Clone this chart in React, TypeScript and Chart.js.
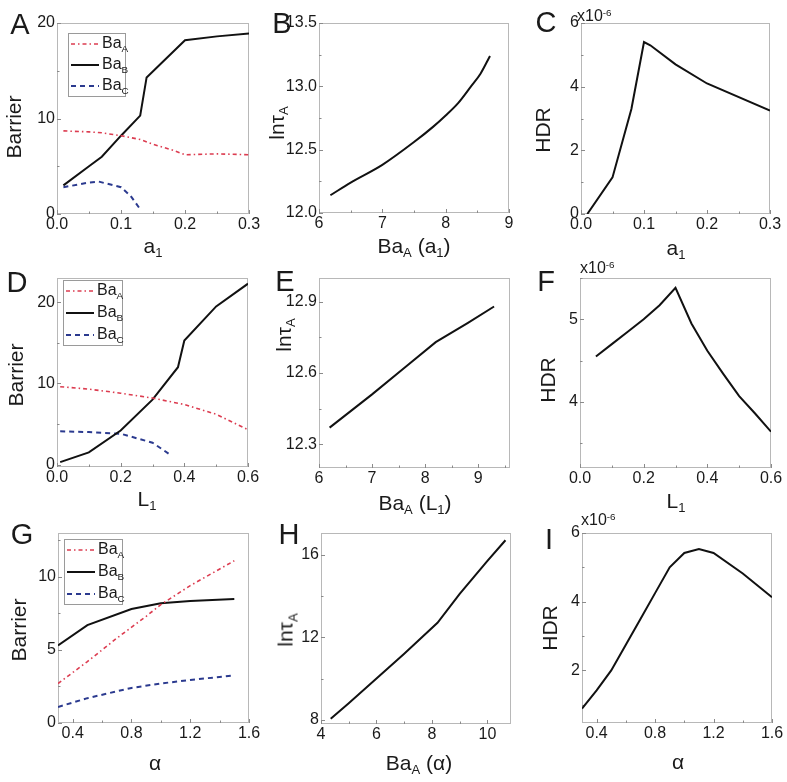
import React, { useEffect, useRef } from "react";
import { Chart, registerables } from "chart.js";
Chart.register(...registerables);

const FONT = "'Liberation Sans', Arial, Helvetica, sans-serif";
const TXT = "#1a1a1a";

// ---------- Data ----------
// Panel A (x = a1)
const A_BaA_x = [0.01, 0.05, 0.07, 0.1, 0.13, 0.15, 0.18, 0.2, 0.25, 0.3];
const A_BaA_y = [8.7, 8.6, 8.5, 8.2, 7.8, 7.3, 6.7, 6.2, 6.3, 6.2];
const A_BaB_x = [0.01, 0.05, 0.07, 0.1, 0.13, 0.14, 0.2, 0.25, 0.3];
const A_BaB_y = [3.0, 5.0, 6.0, 8.2, 10.3, 14.3, 18.2, 18.6, 18.9];
const A_BaC_x = [0.01, 0.05, 0.065, 0.1, 0.115, 0.13];
const A_BaC_y = [2.8, 3.3, 3.4, 2.8, 1.9, 0.5];
// Panel B (x = BaA(a1), y = ln tauA)
const B_x = [6.18, 6.5, 7.0, 7.5, 7.8, 8.0, 8.2, 8.4, 8.55, 8.7];
const B_y = [12.14, 12.24, 12.38, 12.56, 12.68, 12.77, 12.87, 13.0, 13.1, 13.24];
// Panel C (x = a1, HDR x1e-6)
const C_x = [0.01, 0.05, 0.08, 0.1, 0.11, 0.15, 0.2, 0.3];
const C_y = [0, 1.15, 3.3, 5.4, 5.3, 4.7, 4.1, 3.25];
// Panel D (x = L1)
const D_BaA_x = [0.01, 0.1, 0.2, 0.3, 0.4, 0.5, 0.6];
const D_BaA_y = [9.6, 9.3, 8.8, 8.2, 7.4, 6.2, 4.3];
const D_BaB_x = [0.01, 0.1, 0.2, 0.3, 0.38, 0.4, 0.5, 0.6];
const D_BaB_y = [0.3, 1.5, 4.2, 8.0, 12.0, 15.3, 19.5, 22.3];
const D_BaC_x = [0.01, 0.1, 0.2, 0.3, 0.36];
const D_BaC_y = [4.1, 4.0, 3.8, 2.7, 1.1];
// Panel E (x = BaA(L1))
const E_x = [6.2, 7.0, 7.6, 8.2, 8.8, 9.3];
const E_y = [12.37, 12.51, 12.62, 12.73, 12.81, 12.88];
// Panel F (x = L1, HDR x1e-6)
const F_x = [0.05, 0.1, 0.15, 0.2, 0.25, 0.3, 0.35, 0.4, 0.45, 0.5, 0.55, 0.6];
const F_y = [4.55, 4.7, 4.85, 5.0, 5.17, 5.38, 4.95, 4.62, 4.34, 4.07, 3.86, 3.64];
// Panel G (x = alpha)
const G_BaA_x = [0.3, 0.5, 0.7, 0.9, 1.0, 1.2, 1.5];
const G_BaA_y = [2.7, 4.2, 5.8, 7.3, 8.1, 9.4, 11.1];
const G_BaB_x = [0.3, 0.5, 0.8, 1.0, 1.2, 1.5];
const G_BaB_y = [5.3, 6.7, 7.8, 8.2, 8.35, 8.48];
const G_BaC_x = [0.3, 0.5, 0.8, 1.0, 1.2, 1.5];
const G_BaC_y = [1.1, 1.7, 2.4, 2.7, 2.95, 3.25];
// Panel H (x = BaA(alpha))
const H_x = [4.35, 5, 6, 7, 8.2, 9, 10, 10.65];
const H_y = [8.05, 8.8, 10.0, 11.2, 12.7, 14.1, 15.7, 16.7];
// Panel I (x = alpha, HDR x1e-6)
const I_x = [0.3, 0.4, 0.5, 0.6, 0.7, 0.8, 0.9, 1.0, 1.1, 1.2, 1.4, 1.6];
const I_y = [0.89, 1.42, 2.0, 2.75, 3.5, 4.25, 5.0, 5.42, 5.53, 5.42, 4.82, 4.13];

// Tick values
const T_a1 = [0, 0.1, 0.2, 0.3];
const T_L1 = [0, 0.2, 0.4, 0.6];
const T_alpha = [0.4, 0.8, 1.2, 1.6];
const T_barA = [0, 10, 20];
const T_barD = [0, 10, 20];
const T_barG = [0, 5, 10];
const T_Bx = [6, 7, 8, 9];
const T_By = [12.0, 12.5, 13.0, 13.5];
const T_Ex = [6, 7, 8, 9];
const T_Ey = [12.3, 12.6, 12.9];
const T_Hx = [4, 6, 8, 10];
const T_Hy = [8, 12, 16];
const T_hdrC = [0, 2, 4, 6];
const T_hdrF = [4, 5];
const T_hdrI = [2, 4, 6];

// ---------- Config ----------
type Kind = "A" | "B" | "C" | "K";
type Ser = { xs: number[]; ys: number[]; kind: Kind; smooth?: boolean };
type Axis = { min: number; max: number; ticks: number[]; dec: number; minorStep: number };
type PanelCfg = { box: [number, number, number, number]; x: Axis; y: Axis; series: Ser[] };

const panels: PanelCfg[] = [
  {
    box: [57, 23, 249, 214],
    x: { min: 0, max: 0.3, ticks: T_a1, dec: 1, minorStep: 0.05 },
    y: { min: 0, max: 20, ticks: T_barA, dec: 0, minorStep: 5 },
    series: [
      { xs: A_BaA_x, ys: A_BaA_y, kind: "A" },
      { xs: A_BaB_x, ys: A_BaB_y, kind: "B" },
      { xs: A_BaC_x, ys: A_BaC_y, kind: "C" },
    ],
  },
  {
    box: [319, 23, 509, 213],
    x: { min: 6, max: 9, ticks: T_Bx, dec: 0, minorStep: 0.5 },
    y: { min: 12, max: 13.5, ticks: T_By, dec: 1, minorStep: 0.25 },
    series: [{ xs: B_x, ys: B_y, kind: "K", smooth: true }],
  },
  {
    box: [581, 23, 770, 214],
    x: { min: 0, max: 0.3, ticks: T_a1, dec: 1, minorStep: 0.05 },
    y: { min: 0, max: 6, ticks: T_hdrC, dec: 0, minorStep: 1 },
    series: [{ xs: C_x, ys: C_y, kind: "K" }],
  },
  {
    box: [57, 278, 248, 467],
    x: { min: 0, max: 0.6, ticks: T_L1, dec: 1, minorStep: 0.1 },
    y: { min: -0.3, max: 23, ticks: T_barD, dec: 0, minorStep: 5 },
    series: [
      { xs: D_BaA_x, ys: D_BaA_y, kind: "A" },
      { xs: D_BaB_x, ys: D_BaB_y, kind: "B" },
      { xs: D_BaC_x, ys: D_BaC_y, kind: "C" },
    ],
  },
  {
    box: [319, 278, 510, 468],
    x: { min: 6, max: 9.6, ticks: T_Ex, dec: 0, minorStep: 0.5 },
    y: { min: 12.2, max: 13.0, ticks: T_Ey, dec: 1, minorStep: 0.15 },
    series: [{ xs: E_x, ys: E_y, kind: "K" }],
  },
  {
    box: [580, 278, 771, 468],
    x: { min: 0, max: 0.6, ticks: T_L1, dec: 1, minorStep: 0.1 },
    y: { min: 3.2, max: 5.5, ticks: T_hdrF, dec: 0, minorStep: 0.5 },
    series: [{ xs: F_x, ys: F_y, kind: "K" }],
  },
  {
    box: [58, 533, 249, 723],
    x: { min: 0.3, max: 1.6, ticks: T_alpha, dec: 1, minorStep: 0.2 },
    y: { min: 0, max: 13, ticks: T_barG, dec: 0, minorStep: 2.5 },
    series: [
      { xs: G_BaA_x, ys: G_BaA_y, kind: "A" },
      { xs: G_BaB_x, ys: G_BaB_y, kind: "B" },
      { xs: G_BaC_x, ys: G_BaC_y, kind: "C" },
    ],
  },
  {
    box: [321, 533, 511, 724],
    x: { min: 4, max: 10.85, ticks: T_Hx, dec: 0, minorStep: 1 },
    y: { min: 7.8, max: 17.05, ticks: T_Hy, dec: 0, minorStep: 2 },
    series: [{ xs: H_x, ys: H_y, kind: "K" }],
  },
  {
    box: [582, 533, 772, 723],
    x: { min: 0.3, max: 1.6, ticks: T_alpha, dec: 1, minorStep: 0.2 },
    y: { min: 0.47, max: 6, ticks: T_hdrI, dec: 0, minorStep: 1 },
    series: [{ xs: I_x, ys: I_y, kind: "K" }],
  },
];

const styleFor = (k: Kind) => {
  if (k === "A") return { borderColor: "#dc3c50", borderWidth: 1.6, borderDash: [4, 3, 1.5, 3] };
  if (k === "C") return { borderColor: "#2b3a8f", borderWidth: 2, borderDash: [5, 4] };
  return { borderColor: "#111111", borderWidth: 2, borderDash: [] as number[] };
};

const PL = 55, PT = 10, PR = 16, PB = 30;

const framePlugin = {
  id: "frame",
  beforeDatasetsDraw(chart: any) {
    const { ctx, chartArea: a } = chart;
    const cfg = chart.options.plugins.frame as { x: Axis; y: Axis };
    const sx = chart.scales.x, sy = chart.scales.y;
    ctx.save();
    ctx.strokeStyle = "#b8b8b8";
    ctx.lineWidth = 1;
    ctx.strokeRect(a.left + 0.5, a.top + 0.5, a.width - 1, a.height - 1);
    ctx.strokeStyle = "#8a8a8a";
    ctx.beginPath();
    const eps = 1e-9;
    const xStart = Math.ceil((cfg.x.min - eps) / cfg.x.minorStep) * cfg.x.minorStep;
    for (let v = xStart; v <= cfg.x.max + eps; v += cfg.x.minorStep) {
      const major = cfg.x.ticks.some((t) => Math.abs(t - v) < 1e-6);
      const px = Math.round(sx.getPixelForValue(v)) + 0.5;
      const len = major ? 4 : 2.5;
      ctx.moveTo(px, a.bottom);
      ctx.lineTo(px, a.bottom - len);
    }
    const yStart = Math.ceil((cfg.y.min - eps) / cfg.y.minorStep) * cfg.y.minorStep;
    for (let v = yStart; v <= cfg.y.max + eps; v += cfg.y.minorStep) {
      const major = cfg.y.ticks.some((t) => Math.abs(t - v) < 1e-6);
      const py = Math.round(sy.getPixelForValue(v)) + 0.5;
      const len = major ? 4 : 2.5;
      ctx.moveTo(a.left, py);
      ctx.lineTo(a.left + len, py);
    }
    ctx.stroke();
    ctx.restore();
  },
};

function Panel({ p }: { p: PanelCfg }) {
  const ref = useRef<HTMLCanvasElement>(null);
  const [l, t, r, b] = p.box;
  const W = r - l + PL + PR;
  const H = b - t + PT + PB;
  useEffect(() => {
    const tickFont = { family: FONT, size: 16 };
    const chart = new Chart(ref.current as HTMLCanvasElement, {
      type: "line",
      data: {
        datasets: p.series.map((s) => ({
          data: s.xs.map((x, i) => ({ x, y: s.ys[i] })),
          ...styleFor(s.kind),
          pointRadius: 0,
          fill: false,
          tension: 0,
          cubicInterpolationMode: s.smooth ? "monotone" : "default",
        })),
      } as any,
      options: {
        animation: false,
        responsive: false,
        devicePixelRatio: 1,
        events: [],
        layout: { padding: { left: 0, top: PT, right: PR, bottom: 0 } },
        plugins: {
          legend: { display: false },
          tooltip: { enabled: false },
          frame: { x: p.x, y: p.y },
        } as any,
        scales: {
          x: {
            type: "linear",
            min: p.x.min,
            max: p.x.max,
            afterBuildTicks: (s: any) => {
              s.ticks = p.x.ticks.map((v) => ({ value: v }));
            },
            afterFit: (s: any) => {
              s.height = PB;
              s.paddingLeft = 0;
              s.paddingRight = 0;
            },
            grid: { display: false, drawTicks: false },
            border: { display: false },
            ticks: {
              autoSkip: false,
              maxRotation: 0,
              padding: 1,
              color: TXT,
              font: tickFont,
              callback: (v: any) => Number(v).toFixed(p.x.dec),
            },
          },
          y: {
            type: "linear",
            min: p.y.min,
            max: p.y.max,
            afterBuildTicks: (s: any) => {
              s.ticks = p.y.ticks.map((v) => ({ value: v }));
            },
            afterFit: (s: any) => {
              s.width = PL;
              s.paddingTop = 0;
              s.paddingBottom = 0;
            },
            grid: { display: false, drawTicks: false },
            border: { display: false },
            ticks: {
              autoSkip: false,
              padding: 2,
              color: TXT,
              font: tickFont,
              callback: (v: any) => Number(v).toFixed(p.y.dec),
            },
          },
        },
      } as any,
      plugins: [framePlugin],
    });
    return () => chart.destroy();
  }, []);
  return (
    <canvas
      ref={ref}
      width={W}
      height={H}
      style={{ position: "absolute", left: l - PL, top: t - PT, width: W, height: H }}
    />
  );
}

const Sub = ({ children }: { children: React.ReactNode }) => (
  <span style={{ fontSize: "0.62em", verticalAlign: "-0.38em" }}>{children}</span>
);
const Sup = ({ children }: { children: React.ReactNode }) => (
  <span style={{ fontSize: "0.62em", verticalAlign: "0.55em" }}>{children}</span>
);

type Lbl = { x: number; y: number; size: number; rot?: boolean; node: React.ReactNode; left?: boolean };

const BaA = <>Ba<Sub>A</Sub></>;
const lnTau = <>ln&tau;<Sub>A</Sub></>;
const a1 = <>a<Sub>1</Sub></>;
const L1 = <>L<Sub>1</Sub></>;
const x10 = <>x10<Sup>-6</Sup></>;

const LS = 29; // panel letter size
const TS = 21; // axis title size

const labels: Lbl[] = [
  { x: 20, y: 24, size: LS, node: "A" },
  { x: 282, y: 23, size: LS, node: "B" },
  { x: 546, y: 22, size: LS, node: "C" },
  { x: 17, y: 282, size: LS, node: "D" },
  { x: 285, y: 281, size: LS, node: "E" },
  { x: 546, y: 281, size: LS, node: "F" },
  { x: 22, y: 534, size: LS, node: "G" },
  { x: 289, y: 534, size: LS, node: "H" },
  { x: 549, y: 539, size: LS, node: "I" },
  // y titles
  { x: 13, y: 127, size: TS, rot: true, node: "Barrier" },
  { x: 278, y: 123, size: TS, rot: true, node: lnTau },
  { x: 542, y: 130, size: TS, rot: true, node: "HDR" },
  { x: 15, y: 375, size: TS, rot: true, node: "Barrier" },
  { x: 285, y: 335, size: TS, rot: true, node: lnTau },
  { x: 547, y: 380, size: TS, rot: true, node: "HDR" },
  { x: 18, y: 630, size: TS, rot: true, node: "Barrier" },
  { x: 287, y: 630, size: TS, rot: true, node: lnTau },
  { x: 549, y: 628, size: TS, rot: true, node: "HDR" },
  // x titles
  { x: 153, y: 247, size: TS, node: a1 },
  { x: 414, y: 247, size: TS, node: <>{BaA} ({a1})</> },
  { x: 676, y: 249, size: TS, node: a1 },
  { x: 147, y: 500, size: TS, node: L1 },
  { x: 415, y: 504, size: TS, node: <>{BaA} ({L1})</> },
  { x: 676, y: 502, size: TS, node: L1 },
  { x: 155, y: 762, size: TS, node: <>&alpha;</> },
  { x: 419, y: 764, size: TS, node: <>{BaA} (&alpha;)</> },
  { x: 678, y: 761, size: TS, node: <>&alpha;</> },
  // multipliers
  { x: 577, y: 16, size: 16, left: true, node: x10 },
  { x: 580, y: 268, size: 16, left: true, node: x10 },
  { x: 581, y: 520, size: 16, left: true, node: x10 },
];

const legends: [number, number, number, number][] = [
  [68, 33, 58, 64],
  [63, 280, 60, 66],
  [64, 539, 59, 66],
];
const legendNames = ["A", "B", "C"];

function Legend({ box }: { box: [number, number, number, number] }) {
  const [x, y, w, h] = box;
  const rowH = h / 3;
  return (
    <div
      style={{
        position: "absolute",
        left: x,
        top: y,
        width: w,
        height: h,
        border: "1px solid #9a9a9a",
        background: "#fff",
        boxSizing: "border-box",
        fontFamily: FONT,
        color: TXT,
      }}
    >
      {legendNames.map((n, i) => {
        const st = styleFor(n as Kind);
        const cy = rowH * i + rowH / 2 - 1;
        return (
          <div key={n} style={{ position: "absolute", left: 0, top: cy - 10, height: 20, width: w }}>
            <svg width={30} height={20} style={{ position: "absolute", left: 1, top: 0 }}>
              <line
                x1={1}
                y1={10}
                x2={29}
                y2={10}
                stroke={st.borderColor}
                strokeWidth={st.borderWidth}
                strokeDasharray={st.borderDash.length ? st.borderDash.join(",") : undefined}
              />
            </svg>
            <div style={{ position: "absolute", left: 33, top: 0, fontSize: 16, lineHeight: "18px", whiteSpace: "nowrap" }}>
              Ba<Sub>{n}</Sub>
            </div>
          </div>
        );
      })}
    </div>
  );
}

export default function App() {
  return (
    <div
      style={{
        position: "absolute",
        left: 0,
        top: 0,
        width: 787,
        height: 782,
        background: "#fff",
        overflow: "hidden",
        fontFamily: FONT,
      }}
    >
      {panels.map((p, i) => (
        <Panel key={i} p={p} />
      ))}
      {legends.map((b, i) => (
        <Legend key={i} box={b} />
      ))}
      {labels.map((lb, i) => (
        <div
          key={"l" + i}
          style={{
            position: "absolute",
            left: lb.x,
            top: lb.y,
            fontSize: lb.size,
            lineHeight: 1,
            whiteSpace: "nowrap",
            color: TXT,
            transform: lb.left
              ? "translate(0,-50%)"
              : lb.rot
              ? "translate(-50%,-50%) rotate(-90deg)"
              : "translate(-50%,-50%)",
          }}
        >
          {lb.node}
        </div>
      ))}
    </div>
  );
}
